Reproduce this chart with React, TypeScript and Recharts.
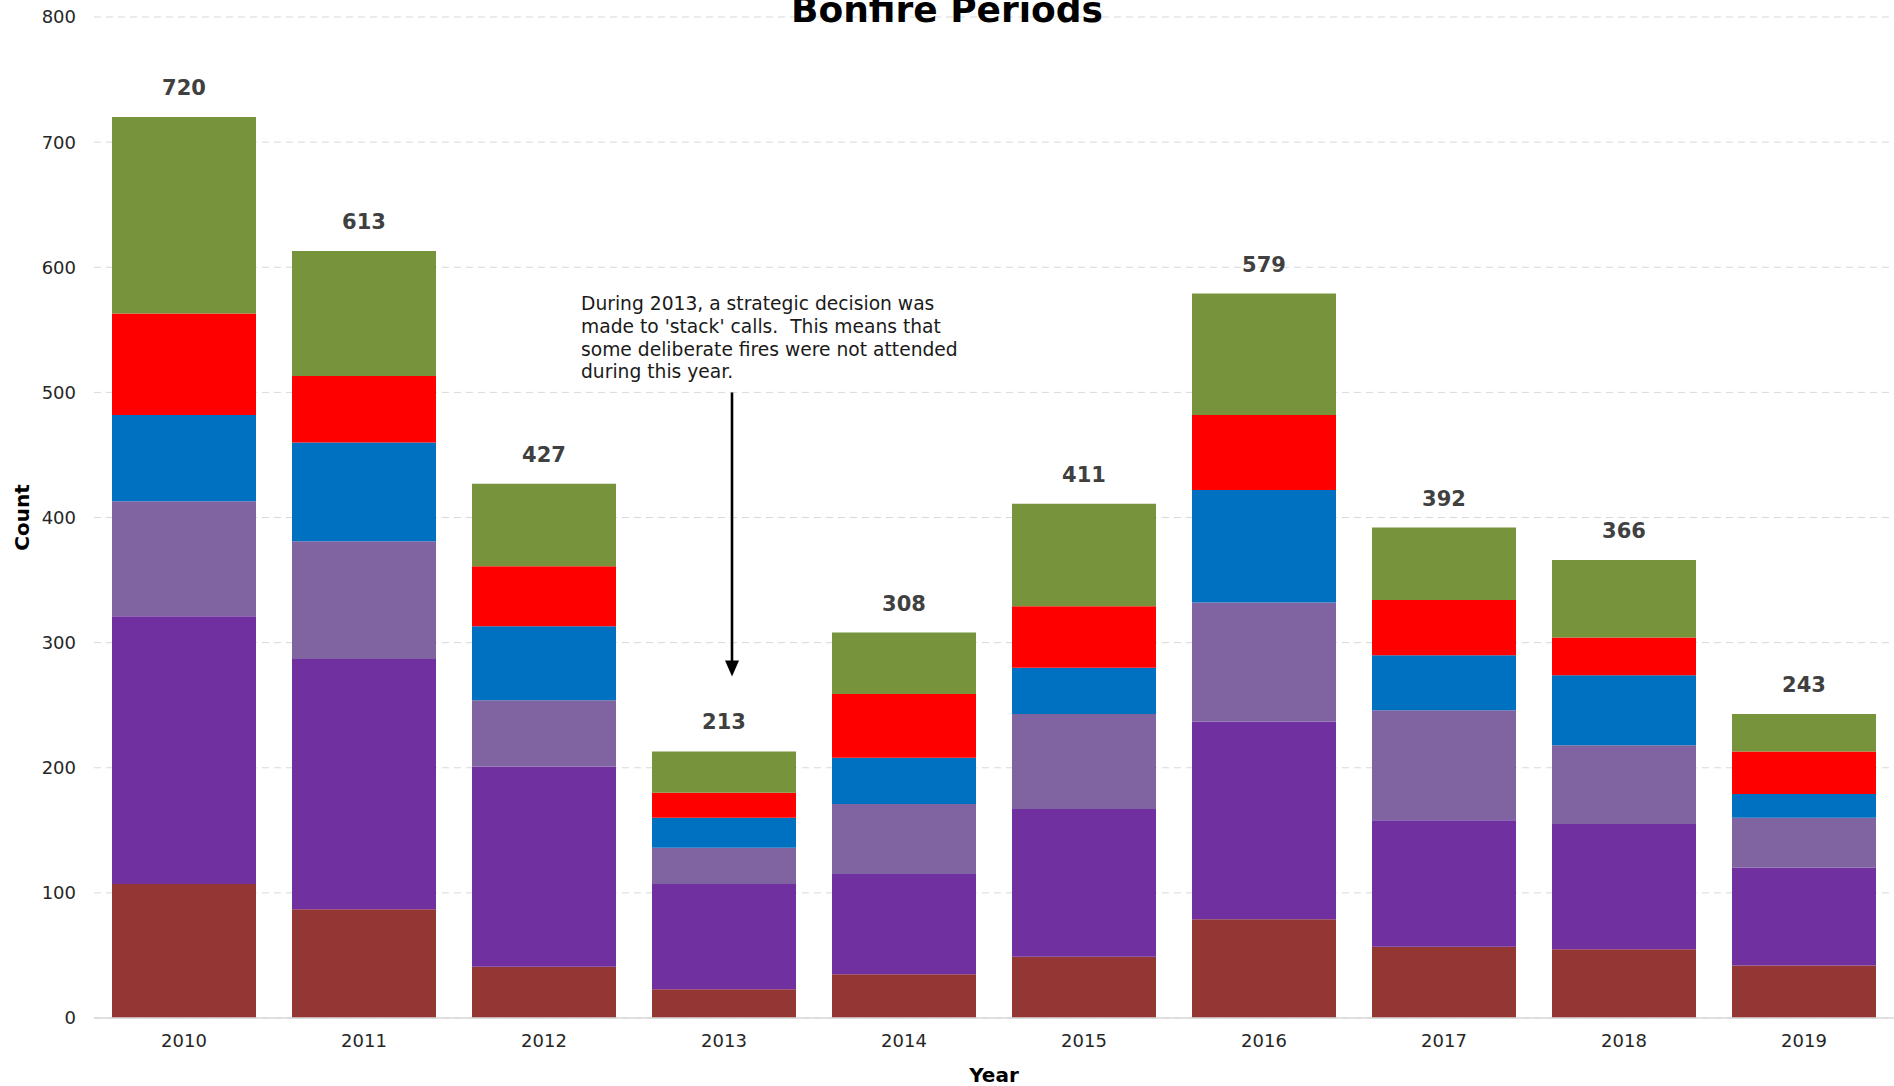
import { BarChart, Bar, XAxis, YAxis, CartesianGrid, LabelList, ReferenceLine } from 'recharts'

const years = ['2010', '2011', '2012', '2013', '2014', '2015', '2016', '2017', '2018', '2019']
const period1 = [107, 87, 41, 23, 35, 49, 79, 57, 55, 42]
const period2 = [214, 200, 160, 84, 80, 118, 158, 101, 100, 78]
const period3 = [92, 94, 53, 29, 56, 76, 95, 88, 63, 40]
const period4 = [69, 79, 59, 24, 37, 37, 90, 44, 56, 19]
const period5 = [81, 53, 48, 20, 51, 49, 60, 44, 30, 34]
const period6 = [157, 100, 66, 33, 49, 82, 97, 58, 62, 30]
const totals = [720, 613, 427, 213, 308, 411, 579, 392, 366, 243]
const yTicks = [0, 100, 200, 300, 400, 500, 600, 700, 800]

const noteLines = [
  'During 2013, a strategic decision was',
  "made to 'stack' calls.  This means that",
  'some deliberate fires were not attended',
  'during this year.',
]

const data = years.map((year, i) => ({
  year,
  p1: period1[i],
  p2: period2[i],
  p3: period3[i],
  p4: period4[i],
  p5: period5[i],
  p6: period6[i],
  total: totals[i],
}))

const font = '"DejaVu Sans", Verdana, sans-serif'

const series = [
  { key: 'p1', name: 'Period 1', color: '#943634' },
  { key: 'p2', name: 'Period 2', color: '#7030A0' },
  { key: 'p3', name: 'Period 3', color: '#8064A2' },
  { key: 'p4', name: 'Period 4', color: '#0070C0' },
  { key: 'p5', name: 'Period 5', color: '#FF0000' },
  { key: 'p6', name: 'Period 6', color: '#77933C' },
]

function ArrowNote(props: any) {
  const x = props.x1 + 8
  const top = props.y1
  const tip = props.y2
  return (
    <g>
      <line x1={x} y1={top} x2={x} y2={tip - 14} stroke="#000" strokeWidth={2.6} />
      <polygon points={`${x - 7},${tip - 16} ${x + 7},${tip - 16} ${x},${tip}`} fill="#000" />
      <text x={x - 151} y={top - 82} fontFamily={font} fontSize={18.7} fill="#1a1a1a">
        {noteLines.map((line, i) => (
          <tspan key={i} x={x - 151} dy={i === 0 ? 0 : 22.7} style={{ whiteSpace: 'pre' }}>
            {line}
          </tspan>
        ))}
      </text>
    </g>
  )
}

function CountLabel(props: any) {
  const vb = props.viewBox
  return (
    <text
      x={22}
      y={vb.y + vb.height / 2}
      transform={`rotate(-90, 22, ${vb.y + vb.height / 2})`}
      textAnchor="middle"
      dominantBaseline="central"
      fontFamily={font}
      fontSize={20}
      fontWeight="bold"
      fill="#000"
    >
      Count
    </text>
  )
}

function App() {
  return (
    <div style={{ position: 'absolute', left: 0, top: 0, width: 1894, height: 1086 }}>
      <BarChart
        width={1894}
        height={1086}
        data={data}
        margin={{ top: 17, right: 0, bottom: 0, left: 0 }}
        barCategoryGap="10%"
      >
        <CartesianGrid vertical={false} stroke="#d9d9d9" strokeDasharray="7 5" />
        <XAxis
          dataKey="year"
          height={68}
          tickLine={false}
          axisLine={{ stroke: '#d9d9d9', strokeWidth: 1.5 }}
          tickMargin={10}
          tick={{ fill: '#262626', fontSize: 18, fontFamily: font }}
          label={{
            value: 'Year',
            position: 'insideBottom',
            offset: 4,
            fill: '#000',
            fontSize: 20,
            fontWeight: 'bold',
            fontFamily: font,
          }}
        />
        <YAxis
          width={94}
          domain={[0, 800]}
          ticks={yTicks}
          axisLine={false}
          tickLine={false}
          tickMargin={12}
          tick={{ fill: '#262626', fontSize: 18, fontFamily: font }}
          label={<CountLabel />}
        />
        {series.map((s, i) => (
          <Bar
            key={s.key}
            dataKey={s.key}
            name={s.name}
            stackId="a"
            fill={s.color}
            isAnimationActive={false}
          >
            {i === series.length - 1 && (
              <LabelList
                dataKey="total"
                position="top"
                offset={22}
                fill="#404040"
                fontSize={21}
                fontWeight="bold"
                fontFamily={font}
              />
            )}
          </Bar>
        ))}
        <ReferenceLine
          segment={[
            { x: '2013', y: 500 },
            { x: '2013', y: 273 },
          ]}
          ifOverflow="visible"
          shape={ArrowNote}
        />
      </BarChart>
      <svg width={1894} height={60} style={{ position: 'absolute', left: 0, top: 0 }}>
        <text x={947} y={22} textAnchor="middle" fontFamily={font} fontSize={36} fontWeight="bold" fill="#000">
          Bonfire Periods
        </text>
      </svg>
    </div>
  )
}

export default App
